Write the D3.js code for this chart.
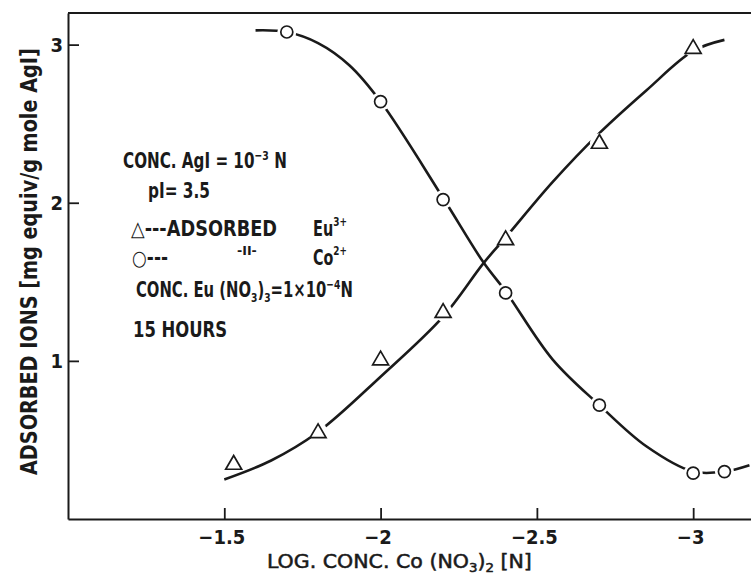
<!DOCTYPE html>
<html>
<head>
<meta charset="utf-8">
<script src="https://cdn.jsdelivr.net/npm/d3@7"></script>
<style>
  html, body { margin: 0; padding: 0; background: #fff; }
  svg { display: block; }
  text {
    font-family: 'DejaVu Sans Condensed', 'DejaVu Sans', sans-serif;
    font-stretch: condensed;
    fill: #1a1a1a;
  }
</style>
</head>
<body>
<svg id="chart" width="751" height="576"></svg>
<script>
// Eu3+ adsorbed (triangles) vs log concentration of Co(NO3)2
const euX = [-1.53, -1.8, -2.0, -2.2, -2.4, -2.7, -3.0];
const euY = [0.35, 0.55, 1.01, 1.31, 1.77, 2.38, 2.98];

// Co2+ adsorbed (circles)
const coX = [-1.7, -2.0, -2.2, -2.4, -2.7, -3.0, -3.1];
const coY = [3.08, 2.64, 2.02, 1.43, 0.72, 0.29, 0.30];

// Hand-drawn smoothing curves through the data
const euCurveX = [-1.5, -1.65, -1.8, -2.0, -2.2, -2.33, -2.4, -2.55, -2.7, -2.85, -3.0, -3.1];
const euCurveY = [0.25, 0.37, 0.55, 0.90, 1.28, 1.62, 1.78, 2.13, 2.44, 2.71, 2.96, 3.03];
const coCurveX = [-1.6, -1.7, -1.8, -1.9, -2.0, -2.2, -2.33, -2.4, -2.55, -2.7, -2.85, -3.0, -3.1, -3.18];
const coCurveY = [3.09, 3.08, 3.01, 2.87, 2.64, 2.03, 1.62, 1.44, 1.01, 0.72, 0.46, 0.30, 0.30, 0.34];

// Axis ticks
const xTicks = [-1.5, -2, -2.5, -3];
const xTickLabels = ["\u22121.5", "\u22122", "\u22122.5", "\u22123"];
const yTicks = [1, 2, 3];
const yTickLabels = ["1", "2", "3"];

const svg = d3.select("#chart");
svg.append("rect").attr("width", 751).attr("height", 576).attr("fill", "#fff");

const x = d3.scaleLinear().domain([-1.0, -3.185]).range([68, 751]);
const y = d3.scaleLinear().domain([0, 3.2]).range([519, 13]);

// Frame: top rule
svg.append("line")
  .attr("x1", x(-1.0)).attr("x2", x(-3.185))
  .attr("y1", y(3.2)).attr("y2", y(3.2))
  .attr("stroke", "#1a1a1a").attr("stroke-width", 2);

// Axes with inward ticks
const xAxis = d3.axisBottom(x)
  .tickValues(xTicks)
  .tickFormat((d, i) => xTickLabels[i])
  .tickSizeInner(-11).tickSizeOuter(0).tickPadding(11);
const gx = svg.append("g").attr("transform", `translate(0,${y(0)})`).call(xAxis);

const yAxis = d3.axisLeft(y)
  .tickValues(yTicks)
  .tickFormat((d, i) => yTickLabels[i])
  .tickSizeInner(-11).tickSizeOuter(0).tickPadding(5);
const gy = svg.append("g").attr("transform", `translate(${x(-1.0)},0)`).call(yAxis);

[gx, gy].forEach(g => {
  g.select(".domain").attr("stroke", "#1a1a1a").attr("stroke-width", 2);
  g.selectAll(".tick line").attr("stroke", "#1a1a1a").attr("stroke-width", 1.8);
  g.selectAll(".tick text")
    .attr("fill", "#1a1a1a")
    .style("font-size", "20px")
    .style("font-weight", "bold");
});
gx.selectAll(".tick text").attr("dx", "-3");

// Curves
const line = d3.line()
  .x(d => x(d[0])).y(d => y(d[1]))
  .curve(d3.curveCatmullRom.alpha(0.5));

const euCurve = euCurveX.map((v, i) => [v, euCurveY[i]]);
const coCurve = coCurveX.map((v, i) => [v, coCurveY[i]]);

svg.append("path").datum(euCurve).attr("d", line)
  .attr("fill", "none").attr("stroke", "#1a1a1a").attr("stroke-width", 2.6);
svg.append("path").datum(coCurve).attr("d", line)
  .attr("fill", "none").attr("stroke", "#1a1a1a").attr("stroke-width", 2.6);

const euPts = euX.map((v, i) => [v, euY[i]]);
const coPts = coX.map((v, i) => [v, coY[i]]);

// White halos leave a gap in the curve round each marker
svg.append("g").selectAll("circle").data(euPts.concat(coPts)).join("circle")
  .attr("cx", d => x(d[0])).attr("cy", d => y(d[1]))
  .attr("r", 9.5).attr("fill", "#fff");

// Eu3+ triangles
const tri = d3.symbol().type(d3.symbolTriangle).size(110);
svg.append("g").selectAll("path").data(euPts).join("path")
  .attr("d", tri)
  .attr("transform", d => `translate(${x(d[0])},${y(d[1]) + 1})`)
  .attr("fill", "#fff").attr("stroke", "#1a1a1a").attr("stroke-width", 1.7);

// Co2+ circles
svg.append("g").selectAll("circle").data(coPts).join("circle")
  .attr("cx", d => x(d[0])).attr("cy", d => y(d[1]))
  .attr("r", 6).attr("fill", "#fff").attr("stroke", "#1a1a1a").attr("stroke-width", 1.7);

// Text line squeezed horizontally to a given width (narrow lettering)
function fitted(parent, px, py, width, rotate) {
  const g = parent.append("g");
  const t = g.append("text");
  t.fit = () => {
    const w = t.node().getBBox().width;
    const s = width / w;
    g.attr("transform", `translate(${px},${py})${rotate ? " rotate(-90)" : ""} scale(${s},1)`);
    return t;
  };
  return t;
}

// Axis titles
const xTitle = fitted(svg, 267, 568, 265).style("font-size", "20px")
  .attr("stroke", "#1a1a1a").attr("stroke-width", 0.5);
xTitle.append("tspan").text("LOG.  CONC.  Co (NO");
xTitle.append("tspan").attr("dy", 4).style("font-size", "13px").text("3");
xTitle.append("tspan").attr("dy", -4).text(")");
xTitle.append("tspan").attr("dy", 4).style("font-size", "13px").text("2");
xTitle.append("tspan").attr("dy", -4).text("  [N]");
xTitle.fit();

fitted(svg, 37, 475, 427, true)
  .style("font-size", "23px").style("font-weight", "bold")
  .text("ADSORBED  IONS [mg equiv/g mole AgI]").fit();

// Annotation block
const note = svg.append("g").style("font-size", "21px").style("font-weight", "bold");

const l1 = fitted(note, 123, 168, 164);
l1.append("tspan").text("CONC. AgI = 10");
l1.append("tspan").attr("dy", -8).style("font-size", "13px").text("\u22123");
l1.append("tspan").attr("dy", 8).text(" N");
l1.fit();

fitted(note, 148, 198, 62).text("pI= 3.5").fit();

fitted(note, 131, 236, 146).text("\u25B3---ADSORBED").fit();
const eu = fitted(note, 313, 236, 34);
eu.append("tspan").text("Eu");
eu.append("tspan").attr("dy", -10).style("font-size", "13px").text("3+");
eu.fit();

fitted(note, 132, 265, 36).text("\u25CB---").fit();
fitted(note, 237, 255, 20).style("font-size", "13px").text("-II-").fit();
const co = fitted(note, 313, 265, 34);
co.append("tspan").text("Co");
co.append("tspan").attr("dy", -10).style("font-size", "13px").text("2+");
co.fit();

const l5 = fitted(note, 136, 297, 217);
l5.append("tspan").text("CONC. Eu (NO");
l5.append("tspan").attr("dy", 5).style("font-size", "13px").text("3");
l5.append("tspan").attr("dy", -5).text(")");
l5.append("tspan").attr("dy", 5).style("font-size", "13px").text("3");
l5.append("tspan").attr("dy", -5).text("=1\u00D710");
l5.append("tspan").attr("dy", -8).style("font-size", "13px").text("\u22124");
l5.append("tspan").attr("dy", 8).text("N");
l5.fit();

fitted(note, 133, 337, 94).text("15 HOURS").fit();
</script>
</body>
</html>
